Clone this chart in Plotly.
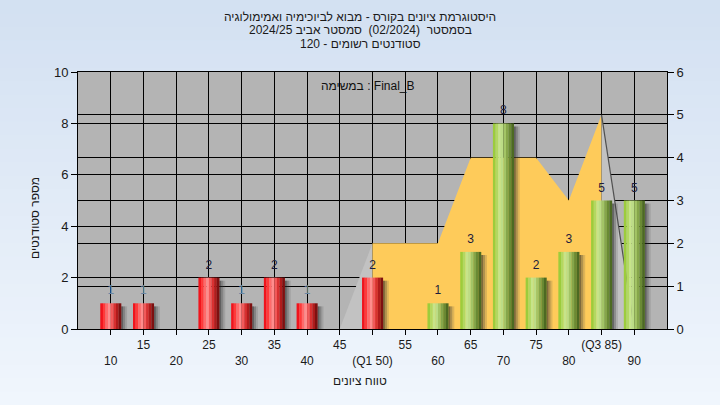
import plotly.graph_objects as go

# ---------------- data ----------------
categories = [10, 15, 20, 25, 30, 35, 40, 45, 50, 55, 60, 65, 70, 75, 80, 85, 90]
counts = [1, 1, 0, 2, 1, 2, 1, 0, 2, 0, 1, 3, 8, 2, 3, 5, 5]
tick_labels = ["10", "15", "20", "25", "30", "35", "40", "45", "(Q1 50)", "55",
               "60", "65", "70", "75", "80", "(Q3 85)", "90"]
q1 = 50
q3 = 85
area_x = [45, 50, 55, 60, 65, 70, 75, 80, 85, 90]
area_y = [0, 2, 2, 2, 4, 4, 4, 3, 5, 0]

title_lines = [
    "היסטוגרמת ציונים בקורס - מבוא לביוכימיה ואמימולוגיה",
    "בסמסטר  (02/2024)  סמסטר אביב 2024/25",
    "סטודנטים רשומים - 120",
]
task_label = "במשימה : Final_B"
x_title = "טווח ציונים"
y_title = "מספר סטודנטים"

# ---------------- styling ----------------
FONT = "Liberation Sans, DejaVu Sans, Arial, sans-serif"
W = 3.2  # bar width in axis units
red_grad = ["#f0141c", "#ff3a3a", "#ff6a6a", "#ff8c8c", "#f25a5a", "#d83030", "#b01c1c", "#7e1010"]
green_grad = ["#9ccc3c", "#b2d862", "#c6e48a", "#bcdc86", "#a3c466", "#86a64a", "#6a8a34", "#4d6a22"]
N = len(red_grad)

fig = go.Figure()

# area (main y axis, right side 0-6)
left_x = [x for x in area_x if x <= q1]
left_y = [y for x, y in zip(area_x, area_y) if x <= q1]
mid_x = [x for x in area_x if q1 <= x <= q3]
mid_y = [y for x, y in zip(area_x, area_y) if q1 <= x <= q3]
right_x = [x for x in area_x if x >= q3]
right_y = [y for x, y in zip(area_x, area_y) if x >= q3]

fig.add_trace(go.Scatter(x=left_x, y=left_y, mode="lines", fill="tozeroy",
                         fillcolor="#c2c2c2", line=dict(width=0), yaxis="y",
                         hoverinfo="skip", showlegend=False))
fig.add_trace(go.Scatter(x=mid_x, y=mid_y, mode="lines", fill="tozeroy",
                         fillcolor="#fecb5a", line=dict(width=0), yaxis="y",
                         hoverinfo="skip", showlegend=False))
fig.add_trace(go.Scatter(x=right_x, y=right_y, mode="lines", fill="tozeroy",
                         fillcolor="#c2c2c2", line=dict(width=1.2, color="#505050"),
                         yaxis="y", hoverinfo="skip", showlegend=False))

# bars (overlay axis y2, left side 0-10)
nz = [(c, v) for c, v in zip(categories, counts) if v > 0]
red = [(c, v) for c, v in nz if c <= q1]
green = [(c, v) for c, v in nz if c > q1]

# shadows
shadow_cols = ["rgba(40,40,40,0.6)", "rgba(60,60,60,0.4)", "rgba(80,80,80,0.18)"]
for i, col in enumerate(shadow_cols):
    fig.add_trace(go.Bar(x=[c for c, v in nz], y=[v - 0.12 for c, v in nz],
                         width=0.3, offset=W / 2 + i * 0.3,
                         marker=dict(color=col, line=dict(width=0)),
                         yaxis="y2", hoverinfo="skip", showlegend=False))

for group, grad in ((red, red_grad), (green, green_grad)):
    for i, col in enumerate(grad):
        fig.add_trace(go.Bar(x=[c for c, v in group], y=[v for c, v in group],
                             width=W / N + 0.02, offset=-W / 2 + i * W / N,
                             marker=dict(color=col, line=dict(width=0)),
                             yaxis="y2", hoverinfo="skip", showlegend=False))

label_colors = ["#6a86a4" if (c <= q1 and v == 1) else "#1c1c3c" for c, v in nz]
fig.add_trace(go.Scatter(x=[c for c, v in nz], y=[v for c, v in nz],
                         text=[str(v) for c, v in nz], mode="markers+text",
                         marker=dict(size=8, opacity=0),
                         textposition="top center",
                         textfont=dict(family=FONT, size=12, color=label_colors),
                         yaxis="y2", hoverinfo="skip", showlegend=False))

# tick labels on two alternating rows
ticktext = [t if i % 2 == 1 else "<br>" + t for i, t in enumerate(tick_labels)]

# ---------------- background gradient ----------------
L, R, T, B = 78, 53, 72, 76
PW, PH = 720 - L - R, 405 - T - B
def px_x(p):
    return (p - L) / PW
def px_y(p):
    return (405 - B - p) / PH

shapes = []
steps = 30
top_rgb = (211, 225, 242)
bot_rgb = (240, 246, 253)
for k in range(steps):
    f = k / (steps - 1)
    r = int(top_rgb[0] + (bot_rgb[0] - top_rgb[0]) * f)
    g = int(top_rgb[1] + (bot_rgb[1] - top_rgb[1]) * f)
    b = int(top_rgb[2] + (bot_rgb[2] - top_rgb[2]) * f)
    y0px = 405 * k / steps
    y1px = 405 * (k + 1) / steps + 1
    shapes.append(dict(type="rect", xref="paper", yref="paper",
                       x0=px_x(0), x1=px_x(720), y0=px_y(y1px), y1=px_y(y0px),
                       fillcolor=f"rgb({r},{g},{b})", line=dict(width=0), layer="below"))
shapes.append(dict(type="rect", xref="paper", yref="paper", x0=0, x1=1, y0=0, y1=1,
                   fillcolor="#b4b4b4", line=dict(width=0), layer="below"))

annotations = []
for line, ypx in zip(title_lines, [17, 30.5, 44]):
    annotations.append(dict(text=line, xref="paper", yref="paper",
                            x=px_x(360), y=px_y(ypx),
                            xanchor="center", yanchor="middle", showarrow=False,
                            font=dict(family=FONT, size=12, color="#1a1a1a")))
annotations.append(dict(text=task_label, xref="paper", yref="paper",
                        x=px_x(368), y=px_y(86),
                        xanchor="center", yanchor="middle", showarrow=False,
                        font=dict(family=FONT, size=12, color="#101010")))
annotations.append(dict(text=x_title, xref="paper", yref="paper",
                        x=px_x(360), y=px_y(381),
                        xanchor="center", yanchor="middle", showarrow=False,
                        font=dict(family=FONT, size=12, color="#1a1a1a")))
annotations.append(dict(text=y_title, xref="paper", yref="paper",
                        x=px_x(35), y=px_y(218), textangle=-90,
                        xanchor="center", yanchor="middle", showarrow=False,
                        font=dict(family=FONT, size=12, color="#1a1a1a")))

axis_common = dict(showgrid=True, gridcolor="black", gridwidth=1, zeroline=False,
                   showline=True, linecolor="black", linewidth=1, automargin=False,
                   ticks="outside", ticklen=6, tickcolor="black",
                   tickfont=dict(family=FONT, size=13, color="#1a1a1a"))

fig.update_layout(
    width=720, height=405,
    margin=dict(l=L, r=R, t=T, b=B, autoexpand=False),
    paper_bgcolor="#e2ecf8", plot_bgcolor="#b4b4b4",
    barmode="overlay", showlegend=False,
    shapes=shapes, annotations=annotations,
    xaxis=dict(range=[5, 95], tickmode="array", tickvals=categories, ticktext=ticktext,
               showgrid=True, gridcolor="black", gridwidth=1, zeroline=False,
               showline=True, linecolor="black", linewidth=1, mirror=True,
               automargin=False,
               ticks="outside", ticklen=5, tickcolor="black", tickangle=0,
               tickfont=dict(family=FONT, size=12, color="#1a1a1a")),
    yaxis=dict(range=[0, 6], dtick=1, side="right", **axis_common),
    yaxis2=dict(range=[0, 10], dtick=2, side="left", overlaying="y", **axis_common),
)

fig.write_html("out.html", config={"displayModeBar": False},
               post_script="document.body.style.margin='0';document.body.style.overflow='hidden';")
